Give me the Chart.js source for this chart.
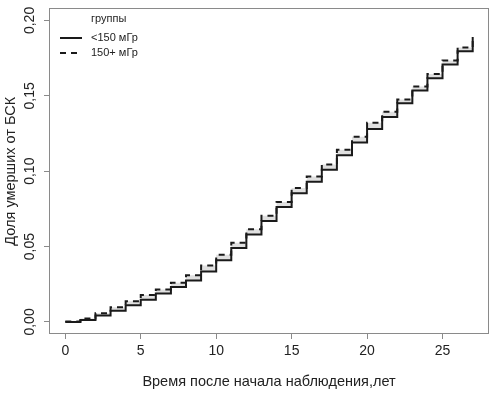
<!DOCTYPE html>
<html>
<head>
<meta charset="utf-8">
<script src="https://cdn.jsdelivr.net/npm/chart.js@4/dist/chart.umd.min.js"></script>
<style>
html,body{margin:0;padding:0;background:#fff;}
canvas{display:block;}
</style>
</head>
<body>
<canvas id="c" width="493" height="394"></canvas>
<script>
// ---- data ----
const years = [0,1,2,3,4,5,6,7,8,9,10,11,12,13,14,15,16,17,18,19,20,21,22,23,24,25,26,27];
const lowDose = [0.000,0.0013,0.0042,0.0075,0.011,0.0148,0.0188,0.0232,0.0275,0.0335,0.041,0.049,0.058,0.067,0.0763,0.0853,0.093,0.101,0.1105,0.119,0.128,0.136,0.145,0.1536,0.1617,0.1708,0.1796,0.189];
const highDose = [0.0003,0.0022,0.0058,0.0098,0.0138,0.0178,0.0215,0.026,0.031,0.0375,0.0445,0.0525,0.0615,0.0705,0.0795,0.0888,0.0965,0.1045,0.1143,0.1228,0.1322,0.1395,0.1475,0.1562,0.1645,0.1735,0.182,0.189];
const seriesNames = ['<150 мГр', '150+ мГр'];
const legendTitle = 'группы';
const xTitle = 'Время после начала наблюдения,лет';
const yTitle = 'Доля умерших от БСК';
const xTicks = [0,5,10,15,20,25];
const yTicks = [0,0.05,0.10,0.15,0.20];

const FONT = "'Liberation Sans', Arial, sans-serif";
const TXT = '#222';
const AXC = '#8a8a8a';

const toPts = (xs, ys) => xs.map((x, i) => ({x: x, y: ys[i]}));

const boxPlugin = {
  id: 'box',
  afterDraw(chart) {
    const a = chart.chartArea, ctx = chart.ctx;
    ctx.save();
    ctx.strokeStyle = AXC;
    ctx.lineWidth = 1;
    ctx.strokeRect(Math.round(a.left) + 0.5, Math.round(a.top) + 0.5, Math.round(a.right - a.left) - 1, Math.round(a.bottom - a.top) - 1);
    // legend
    ctx.fillStyle = TXT;
    ctx.font = '11px ' + FONT;
    ctx.textBaseline = 'middle';
    ctx.textAlign = 'left';
    ctx.fillText(legendTitle, 91, 19);
    chart.data.datasets.forEach((ds, i) => {
      const y = 38 + 15 * i;
      ctx.save();
      ctx.strokeStyle = ds.borderColor;
      ctx.lineWidth = ds.borderWidth;
      ctx.setLineDash(ds.borderDash || []);
      ctx.beginPath();
      ctx.moveTo(60, y);
      ctx.lineTo(82, y);
      ctx.stroke();
      ctx.restore();
      ctx.fillText(ds.label, 91, y);
    });
    ctx.restore();
  }
};

new Chart(document.getElementById('c'), {
  type: 'line',
  data: {
    datasets: [
      {
        label: seriesNames[0],
        data: toPts(years, lowDose),
        borderColor: '#1a1a1a',
        borderWidth: 2,
        stepped: 'before',
        pointRadius: 0,
        fill: false
      },
      {
        label: seriesNames[1],
        data: toPts(years, highDose),
        borderColor: '#1a1a1a',
        borderWidth: 2,
        borderDash: [6, 5],
        stepped: 'before',
        pointRadius: 0,
        fill: '-1',
        backgroundColor: '#e0e0e0'
      }
    ]
  },
  options: {
    responsive: false,
    animation: false,
    devicePixelRatio: 1,
    layout: {padding: {left: 0, top: 8, right: 4, bottom: 0}},
    plugins: {legend: {display: false}, tooltip: {enabled: false}},
    scales: {
      x: {
        type: 'linear',
        min: -1.08,
        max: 28.08,
        afterFit(s) { s.height = 60; },
        afterBuildTicks(s) { s.ticks = xTicks.map(v => ({value: v})); },
        border: {display: false},
        grid: {drawOnChartArea: false, drawTicks: true, tickLength: 5, color: AXC, tickColor: AXC},
        ticks: {
          color: TXT, padding: 4, maxRotation: 0, autoSkip: false,
          font: {family: FONT, size: 14},
          callback: v => String(v)
        },
        title: {display: true, text: xTitle, color: TXT, font: {family: FONT, size: 14.5}, padding: {top: 0, bottom: 3}}
      },
      y: {
        type: 'linear',
        min: -0.008,
        max: 0.208,
        afterFit(s) { s.width = 49; },
        afterBuildTicks(s) { s.ticks = yTicks.map(v => ({value: v})); },
        border: {display: false},
        grid: {drawOnChartArea: false, drawTicks: true, tickLength: 5, color: AXC, tickColor: AXC},
        ticks: {
          color: TXT, padding: 0, minRotation: 90, maxRotation: 90, crossAlign: 'center', autoSkip: false,
          font: {family: FONT, size: 14},
          callback: v => v.toFixed(2).replace('.', ',')
        },
        title: {display: true, text: yTitle, color: TXT, font: {family: FONT, size: 14.5}, padding: {top: 2, bottom: 0}}
      }
    }
  },
  plugins: [boxPlugin]
});
</script>
</body>
</html>
